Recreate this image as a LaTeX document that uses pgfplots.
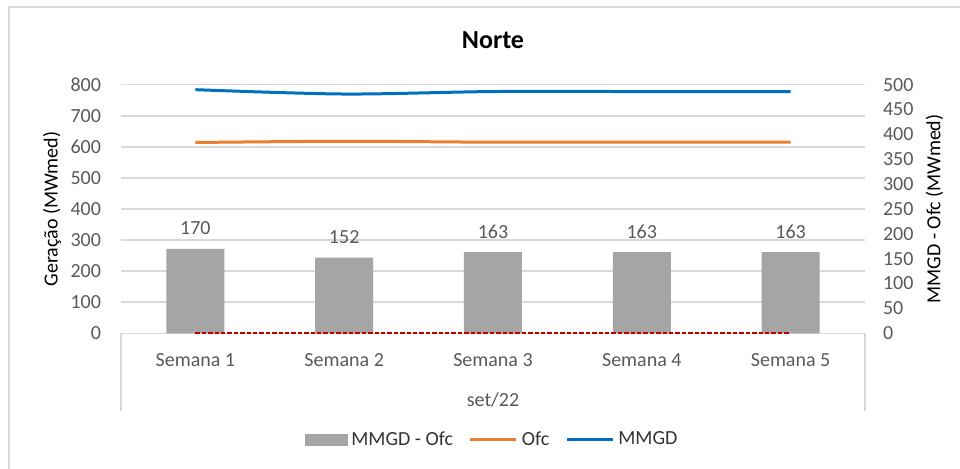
\documentclass[border=0pt]{standalone}
\usepackage{fontspec}
\setmainfont{Carlito}
\usepackage{pgfplots}
\pgfplotsset{compat=1.18}

\definecolor{mmgdblue}{HTML}{0070C0}
\definecolor{ofcorange}{HTML}{ED7D31}
\definecolor{bargray}{HTML}{A5A5A5}
\definecolor{gridgray}{HTML}{D9D9D9}
\definecolor{textgray}{HTML}{595959}
\definecolor{labelgray}{HTML}{333333}
\definecolor{zerored}{HTML}{C00000}

\newcommand{\chartfont}{\fontsize{10}{12}\selectfont}

\pgfplotsset{
  common/.style={
    scale only axis,
    width=372pt, height=124.3pt,
    at={(60.5pt,67.85pt)}, anchor=south west,
    xmin=-0.5, xmax=4.5,
    major tick length=0pt,
    /pgf/number format/assume math mode=true,
    ticklabel style={font=\chartfont, text=textgray},
    label style={font=\chartfont, text=labelgray},
  },
}

\begin{document}
\begin{tikzpicture}
  % page frame and chart border
  \useasboundingbox (0pt,0pt) rectangle (480pt,234.5pt);
  \draw[gridgray, line width=0.8pt] (4.5pt,0pt) -- (4.5pt,231pt) -- (480pt,231pt);

  % left axis: grid, categories, left scale
  \begin{axis}[common,
    ymin=0, ymax=800, ytick={0,100,...,800},
    ymajorgrids, major grid style={gridgray, line width=0.75pt},
    axis x line*=bottom, axis y line*=left,
    y axis line style={draw=none},
    x axis line style={gridgray, line width=0.75pt, -},
    xtick={0,1,2,3,4},
    xticklabels={Semana 1,Semana 2,Semana 3,Semana 4,Semana 5},
    xticklabel style={yshift=-6.5pt},
    yticklabel style={xshift=-6.5pt},
    ylabel={Geração (MWmed)},
    every axis y label/.style={at={(axis description cs:-0.0927,0.5)}, rotate=90, anchor=center},
  ]
  \end{axis}

  % right axis: difference bars
  \begin{axis}[common,
    ymin=0, ymax=500, ytick={0,50,...,500},
    axis y line*=right, axis x line=none,
    y axis line style={draw=none},
    yticklabel style={xshift=5.5pt, anchor=west},
    ylabel={MMGD - Ofc (MWmed)},
    every axis y label/.style={at={(axis description cs:1.0935,0.5)}, rotate=90, anchor=center},
    ybar, bar width=29pt,
    nodes near coords,
    every node near coord/.append style={font=\chartfont, text=textgray, yshift=3.5pt},
  ]
    \addplot[fill=bargray, draw=none] coordinates {(0,170) (1,152) (2,163) (3,163) (4,163)};
  \end{axis}

  % left axis: generation lines
  \begin{axis}[common,
    ymin=0, ymax=800,
    hide axis,
    legend columns=3,
    legend style={at={(0.5,-0.4292)}, anchor=center, draw=none, fill=none,
      font=\chartfont, text=labelgray,
      /tikz/every even column/.append style={column sep=6pt},
      /tikz/every odd column/.append style={column sep=0pt}},
  ]
    \addlegendimage{legend image code/.code={\fill[bargray] (0pt,-2.8pt) rectangle (21pt,2.8pt);}}
    \addlegendentry{MMGD - Ofc}
    \addplot[ofcorange, line width=1.5pt, smooth,
      legend image code/.code={\draw[ofcorange, line width=1.5pt] (0pt,0pt) -- (23pt,0pt);}]
      coordinates {(0,614) (1,618) (2,615) (3,615) (4,615)};
    \addlegendentry{Ofc}
    \addplot[mmgdblue, line width=1.5pt, smooth,
      legend image code/.code={\draw[mmgdblue, line width=1.5pt] (0pt,0pt) -- (23pt,0pt);}]
      coordinates {(0,784) (1,770) (2,778) (3,778) (4,778)};
    \addlegendentry{MMGD}
    \addplot[zerored, line width=1pt, dash pattern=on 2.2pt off 1pt, forget plot]
      coordinates {(0,0) (1,0) (2,0) (3,0) (4,0)};
  \end{axis}

  % category group separators and labels
  \draw[gridgray, line width=0.75pt] (60.5pt,67.85pt) -- (60.5pt,29pt);
  \draw[gridgray, line width=0.75pt] (432.5pt,67.85pt) -- (432.5pt,29pt);
  \node[font=\chartfont, text=textgray] at (246.5pt,34.5pt) {set/22};
  \node[font=\fontsize{13}{15}\selectfont\bfseries, text=black] at (246.5pt,214.5pt) {Norte};
\end{tikzpicture}
\end{document}
